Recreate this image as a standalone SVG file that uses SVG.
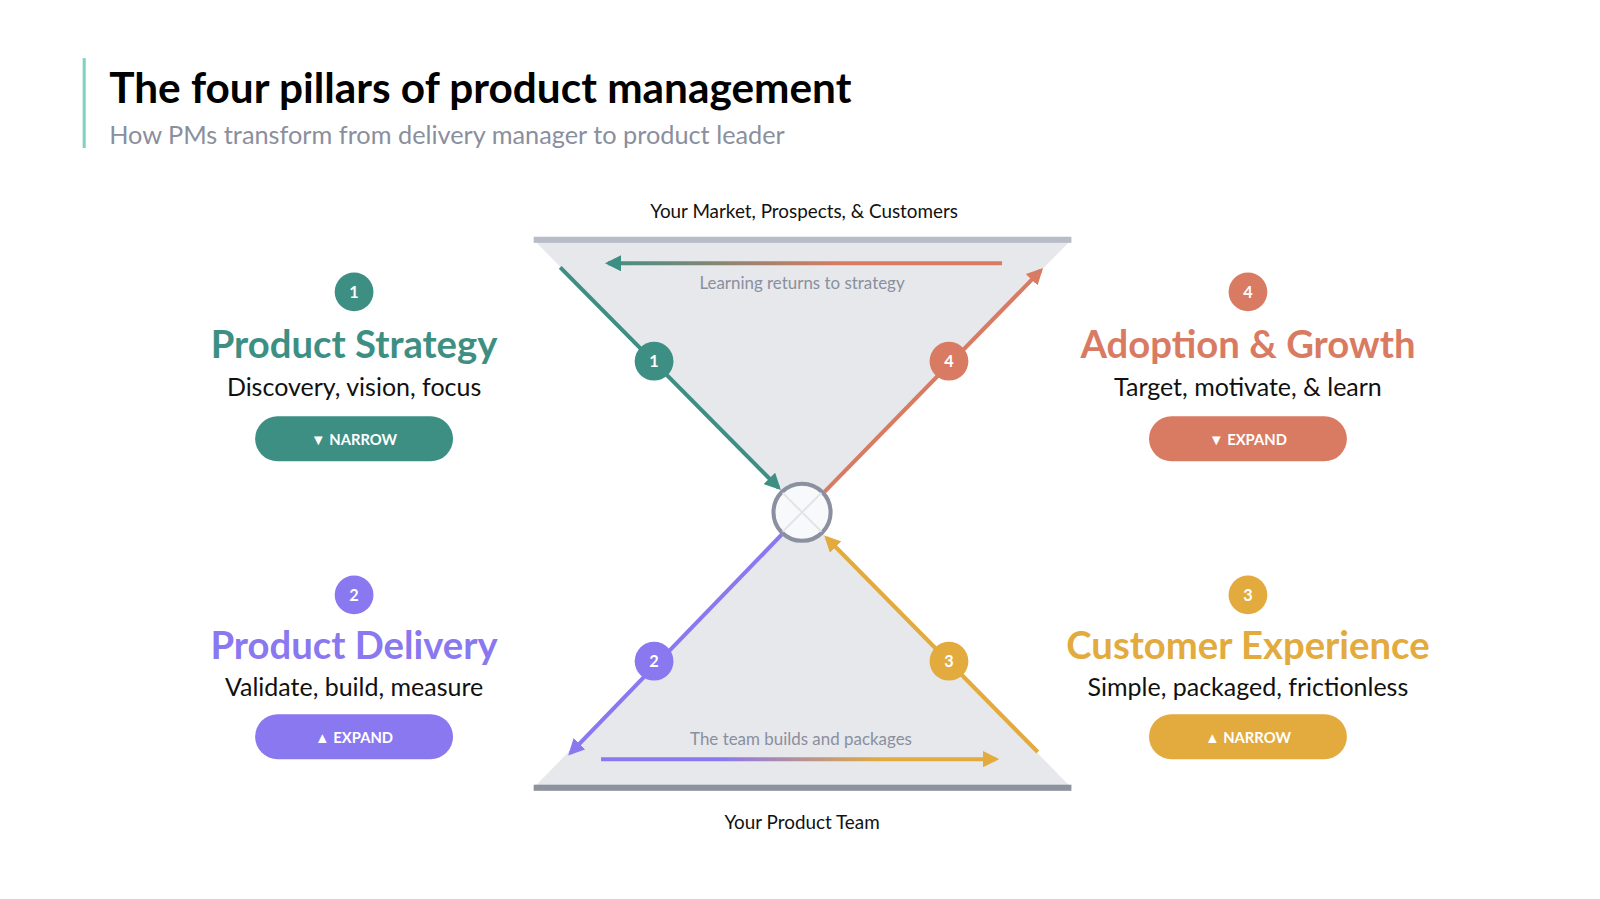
<svg xmlns="http://www.w3.org/2000/svg" width="1600" height="899" viewBox="0 0 1600 899">
<style>
text{font-family:Lato,"Open Sans","Liberation Sans",sans-serif}
.h{font-size:37.5px;font-weight:bold;text-anchor:middle}
.s{font-size:24.5px;fill:#111;text-anchor:middle}
.b{font-size:14.5px;font-weight:bold;fill:#fff}
.n{font-size:16px;font-weight:bold;fill:#fff;text-anchor:middle}
.g{font-size:16.6px;fill:#8a8f9e;text-anchor:middle}
.l{font-size:18.5px;fill:#111;text-anchor:middle}
</style>
<defs>
<linearGradient id="gt" x1="590" y1="0" x2="982" y2="0" gradientUnits="userSpaceOnUse"><stop offset="0" stop-color="#3d8f84"/><stop offset="0.6" stop-color="#d97b62"/></linearGradient>
<linearGradient id="gb" x1="589" y1="0" x2="982" y2="0" gradientUnits="userSpaceOnUse"><stop offset="0.3" stop-color="#8a78f0"/><stop offset="0.7" stop-color="#e3aa3e"/></linearGradient>
<marker id="mt" viewBox="0 0 10 10" refX="8" refY="5" markerWidth="4" markerHeight="4" orient="auto"><path d="M0,0L10,5L0,10Z" fill="#3d8f84"/></marker>
<marker id="mo" viewBox="0 0 10 10" refX="8" refY="5" markerWidth="4" markerHeight="4" orient="auto"><path d="M0,0L10,5L0,10Z" fill="#d97b62"/></marker>
<marker id="mp" viewBox="0 0 10 10" refX="8" refY="5" markerWidth="4" markerHeight="4" orient="auto"><path d="M0,0L10,5L0,10Z" fill="#8a78f0"/></marker>
<marker id="my" viewBox="0 0 10 10" refX="8" refY="5" markerWidth="4" markerHeight="4" orient="auto"><path d="M0,0L10,5L0,10Z" fill="#e3aa3e"/></marker>
</defs>
<rect width="1600" height="899" fill="#fff"/>
<g transform="scale(1.0204)">
<rect x="81" y="57" width="3" height="88" fill="#7fd1c1"/>
<text x="107" y="101" font-size="41.5" font-weight="bold" fill="#000">The four pillars of product management</text>
<text x="107" y="141" font-size="24.8" fill="#8a8f9e">How PMs transform from delivery manager to product leader</text>

<g id="hourglass">
<polygon points="523,235 1050,235 786,502" fill="#e6e8ec"/>
<polygon points="523,772 1050,772 786,502" fill="#e6e8ec"/>
<rect x="523" y="232" width="527" height="6" fill="#b8bcc6"/>
<rect x="523" y="769" width="527" height="6" fill="#8e929c"/>
<text class="l" x="788" y="214">Your Market, Prospects, &amp; Customers</text>
<text class="l" x="786" y="812">Your Product Team</text>
</g>
<g id="connectors" stroke-width="4" fill="none">
<line x1="982" y1="258" x2="596" y2="258" stroke="url(#gt)" marker-end="url(#mt)"/>
<line x1="589" y1="744" x2="976" y2="744" stroke="url(#gb)" marker-end="url(#my)"/>
<line x1="549" y1="262" x2="763" y2="478" stroke="#3d8f84" marker-end="url(#mt)"/>
<line x1="808" y1="482" x2="1020" y2="265" stroke="#d97b62" marker-end="url(#mo)"/>
<line x1="766" y1="524" x2="559" y2="738" stroke="#8a78f0" marker-end="url(#mp)"/>
<line x1="1017" y1="737" x2="810" y2="527" stroke="#e3aa3e" marker-end="url(#my)"/>
</g>
<text class="g" x="786" y="283">Learning returns to strategy</text>
<text class="g" x="785" y="730">The team builds and packages</text>
<g id="center"><circle cx="786" cy="502" r="28" fill="#f8f9fa" stroke="#8a90a0" stroke-width="4"/>
<path d="M767,483L805,521M805,483L767,521" stroke="#e2e4e8" stroke-width="2"/></g>
<g id="badges">
<circle cx="641" cy="354" r="19" fill="#3d8f84"/><text class="n" x="641" y="360">1</text>
<circle cx="930" cy="354" r="19" fill="#d97b62"/><text class="n" x="930" y="360">4</text>
<circle cx="641" cy="648" r="19" fill="#8a78f0"/><text class="n" x="641" y="654">2</text>
<circle cx="930" cy="648" r="19" fill="#e3aa3e"/><text class="n" x="930" y="654">3</text>
</g>
<g id="strategy">
<circle cx="347" cy="286" r="19" fill="#3d8f84"/><text class="n" x="347" y="292">1</text>
<text class="h" x="347" y="351" fill="#3d8f84">Product Strategy</text>
<text class="s" x="347" y="388">Discovery, vision, focus</text>
<rect x="250" y="408" width="194" height="44" rx="22" fill="#3d8f84"/>
<text class="b" x="347" y="436" text-anchor="middle">▼  NARROW</text>
</g>
<g id="adoption">
<circle cx="1223" cy="286" r="19" fill="#d97b62"/><text class="n" x="1223" y="292">4</text>
<text class="h" x="1223" y="351" fill="#d97b62">Adoption &amp; Growth</text>
<text class="s" x="1223" y="388">Target, motivate, &amp; learn</text>
<rect x="1126" y="408" width="194" height="44" rx="22" fill="#d97b62"/>
<text class="b" x="1223" y="436" text-anchor="middle">▼  EXPAND</text>
</g>
<g id="delivery">
<circle cx="347" cy="583" r="19" fill="#8a78f0"/><text class="n" x="347" y="589">2</text>
<text class="h" x="347" y="646" fill="#8a78f0">Product Delivery</text>
<text class="s" x="347" y="682">Validate, build, measure</text>
<rect x="250" y="700" width="194" height="44" rx="22" fill="#8a78f0"/>
<text class="b" x="347" y="728" text-anchor="middle">▲  EXPAND</text>
</g>
<g id="experience">
<circle cx="1223" cy="583" r="19" fill="#e3aa3e"/><text class="n" x="1223" y="589">3</text>
<text class="h" x="1223" y="646" fill="#e3aa3e">Customer Experience</text>
<text class="s" x="1223" y="682">Simple, packaged, frictionless</text>
<rect x="1126" y="700" width="194" height="44" rx="22" fill="#e3aa3e"/>
<text class="b" x="1223" y="728" text-anchor="middle">▲  NARROW</text>
</g>
</g>
</svg>
